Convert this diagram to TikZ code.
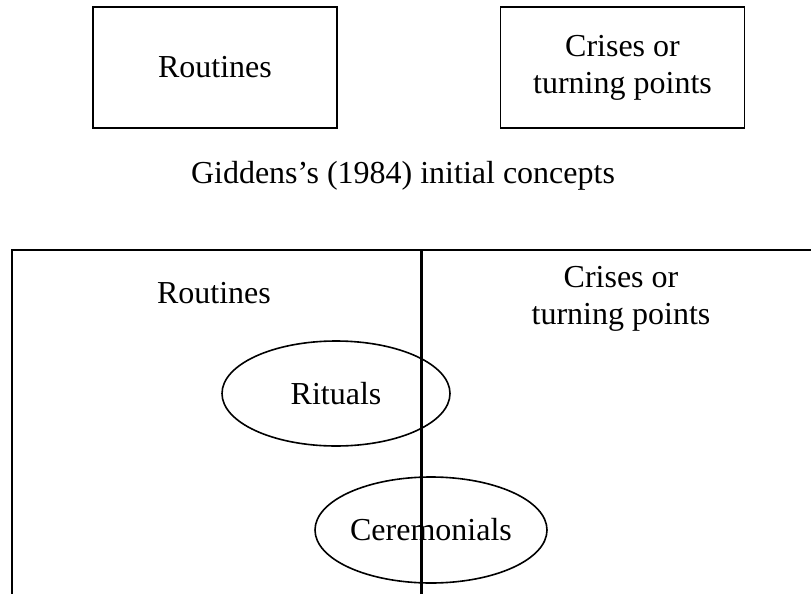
\documentclass[tikz,border=0pt]{standalone}
\usepackage{fontspec}
\setmainfont{Liberation Serif}
\usetikzlibrary{shapes.geometric}
\begin{document}
\begin{tikzpicture}[x=1pt,y=-1pt,
  lbl/.style={font=\fontsize{32}{37}\selectfont, align=center, inner sep=0pt},
  topbox/.style={draw, line width=1.8pt, minimum width=244pt, minimum height=121pt, inner sep=0pt, font=\fontsize{32}{37}\selectfont, align=center},
  oval/.style={draw, ellipse, line width=1.6pt, inner sep=0pt, font=\fontsize{32}{37}\selectfont}
]
\useasboundingbox (0,0) rectangle (811,594);
% top row
\node[topbox] (rt) at (215,67.5) {Routines};
\node[topbox] (ct) at (622.5,67.5) {Crises or\\turning points};
\node[lbl, anchor=base] (cap) at (403,183) {Giddens’s (1984) initial concepts};
% bottom frame
\coordinate (fbl) at (12,594);
\coordinate (ftl) at (12,250);
\coordinate (ftr) at (811,250);
\draw[line width=1.8pt] (fbl) -- (ftl) -- (ftr);
\node[lbl, anchor=base] (rb) at (214,303) {Routines};
\node[lbl, anchor=base] (cb1) at (621,287) {Crises or};
\node[lbl, anchor=base] (cb2) at (621,324) {turning points};
\node[oval, minimum width=228pt, minimum height=105pt] (rit) at (336,393.5) {Rituals};
\node[oval, minimum width=232pt, minimum height=106pt] (cer) at (431,530) {Ceremonials};
% divider
\coordinate (dt) at (421,250);
\coordinate (db) at (421,594);
\draw[line width=3pt] (dt) -- (db);
\end{tikzpicture}
\end{document}
